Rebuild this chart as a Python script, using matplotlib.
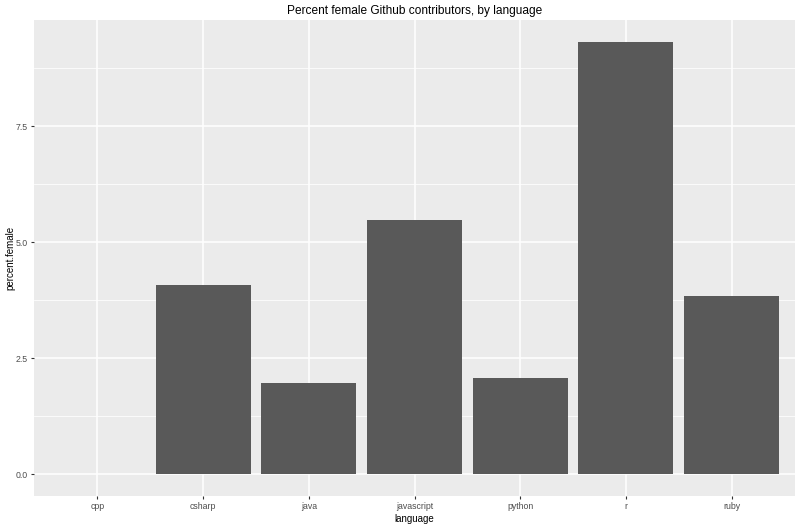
import numpy as np
import matplotlib
matplotlib.use("Agg")
import matplotlib.pyplot as plt
from matplotlib.ticker import MultipleLocator

plt.rcParams['font.family'] = ['Liberation Sans', 'DejaVu Sans']

# data
languages = ["cpp", "csharp", "java", "javascript", "python", "r", "ruby"]
percent_female = [0.0, 4.08, 1.96, 5.48, 2.08, 9.32, 3.85]

fig = plt.figure(figsize=(8, 5.26), dpi=100)
ax = fig.add_axes([34 / 800, 30 / 526, 761 / 800, 476 / 526])

x = np.arange(len(languages))
ax.bar(x, percent_female, width=0.9, color="#595959", zorder=3)

ax.set_facecolor("#EBEBEB")
ax.set_xlim(-0.6, len(languages) - 0.4)
top = max(percent_female) * 1.05
bottom = -max(percent_female) * 0.05

ax.set_xticks(x)
ax.set_xticklabels(languages)
ax.yaxis.set_minor_locator(MultipleLocator(1.25))
yt = [v for v in np.arange(0, top, 2.5)]
ax.set_yticks(yt)
ax.set_yticklabels([f"{v:.1f}" for v in yt])
ax.set_ylim(bottom, top)

ax.grid(which="major", color="white", linewidth=1.1, zorder=0)
ax.grid(which="minor", axis="y", color="white", linewidth=0.55, zorder=0)
ax.set_axisbelow(True)
for s in ax.spines.values():
    s.set_visible(False)

ax.tick_params(which="major", length=2.5, width=0.8, color="#333333",
               labelsize=6.3, labelcolor="#4D4D4D", pad=2)
ax.tick_params(which="minor", length=0)

ax.set_xlabel("language", fontsize=7.0, color="black", labelpad=2)
ax.set_ylabel("percent.female", fontsize=7.0, color="black")
ax.yaxis.set_label_coords(-19 / 761, 0.5)
ax.set_title("Percent female Github contributors, by language", fontsize=8.6, pad=4)

fig.savefig("out.png", dpi=100)
